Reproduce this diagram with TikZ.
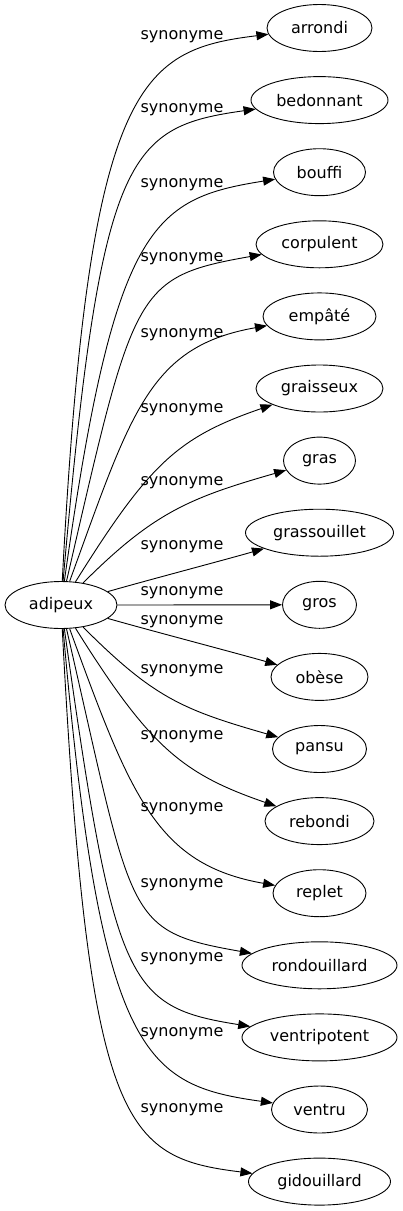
\documentclass[tikz,border=0pt]{standalone}
\usepackage{fontspec}
\setmainfont{DejaVu Sans}
\usetikzlibrary{arrows.meta}
\usetikzlibrary{shapes.geometric}
\tikzset{word/.style={draw,ellipse,minimum height=47pt,inner sep=0pt,line width=0.9pt,
                      font=\fontsize{16}{19}\selectfont}}
\tikzset{rel/.style={font=\fontsize{16}{19}\selectfont,inner sep=0pt}}

\begin{document}
\begin{tikzpicture}[x=1pt,y=-1pt,>={Triangle[length=12pt,width=9pt]},line width=0.9pt]
    \useasboundingbox (0,0) rectangle (403,1211);

    % Draw the headword
    \node[word,minimum width=112pt] (adipeux) at (61,605) {adipeux};

    % Draw the synonyms, one per row
    \foreach \i/\name/\w in {1/arrondi/105,2/bedonnant/137,3/bouffi/92,4/corpulent/127,
                             5/empâté/113,6/graisseux/127,7/gras/72,8/grassouillet/148,
                             9/gros/74,10/obèse/97,11/pansu/94,12/rebondi/109,13/replet/93,
                             14/rondouillard/155,15/ventripotent/155,16/ventru/96,17/gidouillard/142}
        \node[word,minimum width=\w pt] (S-\i) at (319.5,{28+72.1*(\i-1)}) {\name};

    % Connect the headword with every synonym and label the edge
    \foreach \i/\ao/\ai/\dout/\din/\ly in {1/87/187/500/130/37,2/85/188/430/130/110,
                                          3/82/189/360/125/185,4/77/190/300/130/259,
                                          5/70/190/180/120/335,6/58/199/140/100/410,
                                          7/45/196/100/100/483,8/16/196/40/40/547,
                                          9/0/180/40/40/593,
                                          10/-16/164/40/40/622,11/-45/164/100/100/671,
                                          12/-58/161/140/100/737,13/-70/170/180/120/809,
                                          14/-77/170/300/130/885,15/-82/171/360/125/959,
                                          16/-85/172/430/130/1034,17/-87/173/500/130/1110}
    {
        \draw[->] (adipeux) to[out=\ao,in=\ai,out distance=\dout pt,in distance=\din pt] (S-\i);
        \node[rel] (L-\i) at (182,\ly) {synonyme};
    }
\end{tikzpicture}
\end{document}
